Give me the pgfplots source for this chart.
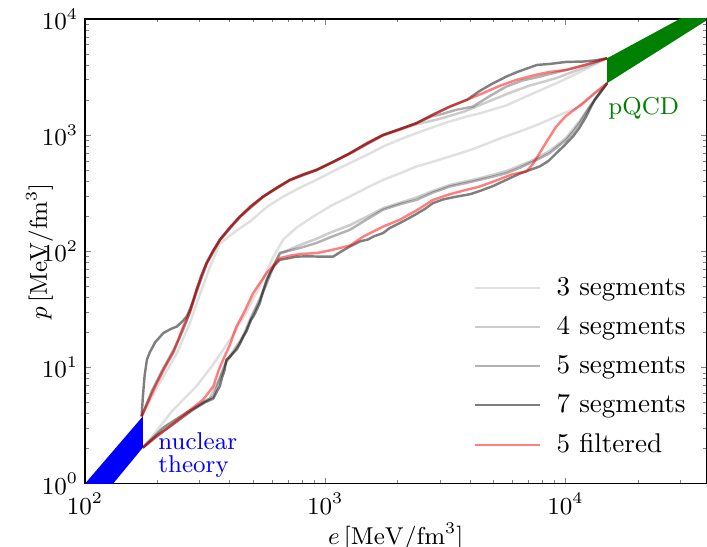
\documentclass[border=0pt]{standalone}
\usepackage{pgfplots}
\pgfplotsset{compat=1.18}

\begin{document}
\begin{tikzpicture}
\begin{axis}[
    scale only axis,
    width=229.5pt, height=171.6pt,
    xmode=log, ymode=log,
    xmin=100, xmax=38600, ymin=1, ymax=10000,
    xlabel={$e\,[\mathrm{MeV/fm^3}]$},
    ylabel={$p\,[\mathrm{MeV/fm^3}]$},
    xlabel shift=-3.4pt,
    ylabel shift=-11pt,
    tick label style={font=\small},
    yticklabel style={xshift=1pt},
    label style={font=\small},
    major tick length=2.2pt, minor tick length=1.3pt,
    tick align=inside,
    clip mode=individual,
    legend style={draw=none, fill=none, at={(0.989,0.469)}, anchor=north east,
        font=\normalsize, row sep=2.2pt},
    legend cell align=left,
    legend image code/.code={\draw[#1] (0pt,0pt) -- (24pt,0pt); \path (27.7pt,0pt);},
    every axis plot/.append style={line width=0.9pt, line join=round},
]
% 3 segments
\addplot[black, opacity=0.12] coordinates {(172,3.79) (200,6.8) (240,13) (273,24) (300,42) (330,72) (364,116) (400,136) (441,158) (485,180) (570,240) (668,296) (790,355) (919,412) (1080,490) (1265,574) (1500,680) (1740,798) (2050,920) (2394,1040) (2800,1170) (3294,1309) (3900,1450) (4390,1540) (5666,1800) (7200,2250) (9150,2799) (11500,3500) (14900,4592)};
\addlegendentry{3 segments}
\addplot[black, opacity=0.12, forget plot] coordinates {(174,2.04) (192,2.6) (230,4.2) (291,6.9) (340,10.5) (401,17.3) (470,30) (551,57) (600,85) (640,108) (668,126) (760,160) (890,199) (1050,245) (1265,296) (1500,355) (1740,412) (2050,470) (2394,537) (2800,590) (3294,655) (3900,730) (4390,798) (5500,960) (6500,1080) (7797,1250) (9500,1500) (11436,1762) (13000,2200) (14900,2800)};
% 4 segments
\addplot[black, opacity=0.2] coordinates {(172,3.79) (190,6.2) (210,9.3) (235,14.2) (255,20.5) (273,29.5) (291,44.5) (321,78) (364,124) (441,197) (551,293) (712,408) (919,498) (1265,690) (1740,990) (2394,1240) (2993,1380) (3800,1600) (4500,1850) (5666,2250) (7000,2650) (9150,3100) (11500,3700) (14900,4592)};
\addlegendentry{4 segments}
\addplot[black, opacity=0.2, forget plot] coordinates {(174,2.04) (215,3.1) (270,4.2) (330,5.4) (360,7.8) (388,11.5) (420,14.5) (455,18.8) (490,27) (534,39) (560,50) (588,64) (620,82) (647,95) (720,105) (800,115) (919,128) (1050,145) (1265,168) (1500,200) (1740,235) (2050,262) (2394,290) (2800,330) (3294,372) (4390,425) (5666,490) (7085,590) (8581,730) (10070,950) (11436,1320) (12800,1850) (14900,2800)};
% 5 segments
\addplot[black, opacity=0.3] coordinates {(172,3.79) (190,6.3) (210,9.5) (235,14.5) (255,21) (273,30) (291,45) (321,79) (364,125) (441,198) (551,295) (712,410) (919,500) (1265,697) (1740,1002) (2394,1267) (2800,1460) (2993,1500) (3500,1650) (4118,1762) (4800,2150) (5666,2618) (6600,2950) (7797,3190) (9200,3480) (10725,3766) (12700,4150) (14900,4592)};
\addlegendentry{5 segments}
\addplot[black, opacity=0.3, forget plot] coordinates {(174,2.04) (210,3.0) (260,4.0) (320,5.2) (342,5.6) (360,7.5) (388,11.2) (420,14) (455,18) (490,26) (534,38) (560,48) (588,62) (620,80) (647,97) (720,102) (800,108) (919,118) (1050,132) (1265,153) (1500,190) (1740,228) (2050,255) (2394,277) (2800,320) (3294,361) (3800,385) (4390,412) (5000,440) (5666,471) (6400,520) (7085,574) (7797,630) (8581,699) (9300,800) (10070,910) (10800,1080) (11436,1267) (12500,1700) (14900,2800)};
% 7 segments
\addplot[black, opacity=0.5] coordinates {(172,3.79) (174,5.5) (177,8.5) (181,11.7) (186,13.5) (196,16.5) (212,19.8) (228,21.5) (241,22.5) (255,25) (265,27.5) (273,31.4) (282,38) (291,46.7) (305,62) (321,80) (340,100) (364,126) (400,160) (441,199) (490,245) (551,296) (630,355) (712,412) (810,460) (919,503) (1080,590) (1265,699) (1500,860) (1740,1005) (2050,1130) (2394,1267) (2800,1500) (3294,1762) (3900,2020) (4390,2400) (5000,2800) (5666,3190) (6300,3500) (7600,4018) (8581,4100) (10070,4270) (11803,4300) (13300,4400) (14900,4592)};
\addlegendentry{7 segments}
\addplot[black, opacity=0.5, forget plot] coordinates {(174,2.04) (200,2.6) (240,3.4) (280,4.3) (315,5.0) (342,5.4) (352,6.1) (364,6.9) (372,8.2) (380,9.3) (388,11.7) (400,12.3) (415,13.4) (427,14.2) (440,15.8) (455,18.5) (470,20.5) (490,25.5) (505,28) (534,35.8) (550,45) (570,56.9) (590,66) (612,75) (647,84.5) (700,87) (759,90) (850,90.5) (950,90) (1078,90) (1150,98) (1265,110) (1400,122) (1500,126) (1600,135) (1740,143.5) (1850,158) (2041,175) (2200,190) (2400,210) (2600,232) (2807,260) (3100,280) (3500,295) (4000,310) (4390,330) (5000,365) (5666,412) (6500,470) (7797,537) (8500,600) (9150,699) (9800,800) (10725,972) (11400,1150) (12190,1445) (13200,2010) (14900,2800)};
% 5 filtered
\addplot[red, opacity=0.5] coordinates {(172,3.79) (185,5.3) (199,7.3) (215,10) (233,13.4) (245,17.5) (256,22.5) (265,26) (273,30) (282,37) (291,46) (305,61) (321,79) (340,99) (364,125) (400,159) (441,198) (490,244) (551,295) (630,353) (712,410) (810,458) (919,500) (1080,588) (1265,695) (1500,855) (1740,1000) (2050,1125) (2394,1265) (2800,1490) (3294,1750) (3900,2020) (4530,2296) (5300,2650) (6237,2987) (7500,3300) (8581,3500) (10070,3641) (12000,4000) (14900,4592)};
\addlegendentry{5 filtered}
\addplot[red, opacity=0.5, forget plot] coordinates {(174,2.04) (220,3.0) (270,4.2) (310,5.28) (342,6.87) (360,9.5) (376,11.7) (400,15.5) (427,22.5) (460,30) (501,43.7) (540,55) (570,64.9) (610,76) (647,87.4) (720,92) (800,95) (919,96.5) (1050,102) (1265,112) (1450,135) (1740,163) (2041,187) (2400,225) (2807,277) (3300,310) (3800,335) (4390,361) (5200,410) (6000,460) (6865,486) (7300,560) (7797,699) (8400,900) (9150,1185) (10000,1450) (11803,1884) (13200,2300) (14900,2800)};
% nuclear theory band
\addplot[draw=none, fill=blue, forget plot] coordinates {(100,0.5) (100,1.0) (174,3.79) (174,2.04) (100,0.51)} -- cycle;
% pQCD band
\addplot[draw=none, fill=green!50!black, forget plot] coordinates {(14900,2800) (14900,4592) (40000,13870) (40000,10170)} -- cycle;
\node[anchor=base west, font=\small, text=blue, inner sep=0pt] at (axis cs:201,1.96) {nuclear};
\node[anchor=base west, font=\small, text=blue, inner sep=0pt] at (axis cs:201,1.243) {theory};
\node[anchor=base west, font=\small, text=green!50!black, inner sep=0pt] at (axis cs:15000,1494) {pQCD};
\end{axis}
\pgfresetboundingbox
\path (-31.4pt,-23.2pt) rectangle (229.7pt,178.6pt);
\end{tikzpicture}
\end{document}
